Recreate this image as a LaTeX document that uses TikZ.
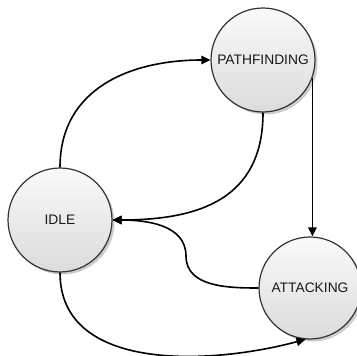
\documentclass[tikz,border=0pt]{standalone}
\usepackage{fontspec}
\setmainfont{Liberation Sans}
\usetikzlibrary{arrows.meta,shadows}

\tikzset{
  state/.style={circle, minimum size=104pt, inner sep=0pt,
    draw=black!80, line width=1.2pt,
    top color=gray!4, bottom color=gray!28,
    drop shadow={shadow xshift=2.5pt, shadow yshift=-2.5pt, fill=gray!80},
    font=\fontsize{13.8}{15}\selectfont, text=black!90},
  trans/.style={line width=1.6pt, -{Triangle[length=9pt,width=8.5pt]}}
}

\begin{document}
\begin{tikzpicture}[x=1pt,y=1pt]
  \useasboundingbox (0,0) rectangle (357,-356);
  \node[state] (pathfind) at (263,-60) {PATHFINDING};
  \node[state] (idle) at (60,-220) {IDLE};
  \node[state, minimum size=102pt] (attack) at (310,-288) {ATTACKING};
  \coordinate (bend) at (186,-256);

  \draw[trans] (idle.north) to[out=90,in=180,looseness=1.1] (pathfind.west);
  \draw[trans] (pathfind.south) to[out=-90,in=0,looseness=1.2] (idle.east);
  \draw[trans] (pathfind.-20) -- (pathfind.-20 |- attack.north);
  \draw[trans] (attack.west) to[out=180,in=-90] (bend)
    to[out=90,in=0] (idle.east);
  \draw[trans] (idle.south) to[out=-90,in=195] (attack.-95);
\end{tikzpicture}
\end{document}
